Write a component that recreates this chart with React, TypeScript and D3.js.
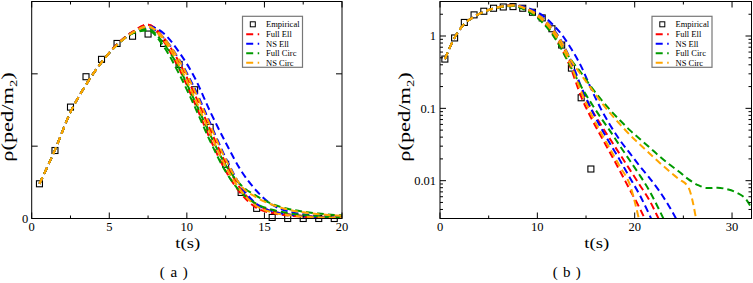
import React from 'react';
import * as d3 from 'd3';

// time grid of the simulated curves (s)
const tGrid = [0.5, 1.5, 2.5, 3.5, 4.5, 5.5, 6.5, 7.5, 8.5, 9.5, 10.5, 11.5, 12.5, 13.5, 14.5, 15.5, 16.5,
  17.5, 18.5, 19.5, 20.5, 21.5, 22.5, 23.5, 24.5, 25.5, 26.5, 27.5, 28.5, 29.5, 30.5, 31.5, 32];

// empirical density
const empT = [0.5, 1.5, 2.5, 3.5, 4.5, 5.5, 6.5, 7.5, 8.5, 9.5, 10.5, 11.5, 12.5, 13.5, 14.5, 15.5, 16.5, 17.5, 18.5, 19.5];
const empRho = [0.48, 0.94, 1.54, 1.96, 2.2, 2.42, 2.52, 2.55, 2.42, 2.13, 1.78, 1.26, 0.75, 0.36, 0.14, 0.0145, 0, 0, 0, 0];

// model runs, two per model
const fullEllA = [0.48, 0.95, 1.47, 1.85, 2.16, 2.41, 2.58, 2.68, 2.45, 2.07, 1.6, 1.1, 0.66, 0.34,
  0.145, 0.075, 0.042, 0.024, 0.0135, 0.0075, 0.0042, 0.0022, 0, 0, 0, 0, 0, 0, 0, 0, 0, 0, 0];
const fullEllB = [0.48, 0.95, 1.47, 1.85, 2.16, 2.41, 2.58, 2.68, 2.5, 2.16, 1.72, 1.23, 0.77, 0.4,
  0.19, 0.1, 0.06, 0.037, 0.023, 0.0142, 0.0088, 0.0054, 0.0029, 0.0015, 0, 0, 0, 0, 0, 0, 0, 0, 0];
const nsEllA = [0.48, 0.95, 1.47, 1.85, 2.16, 2.4, 2.57, 2.64, 2.5, 2.2, 1.8, 1.32, 0.84, 0.44,
  0.2, 0.1, 0.055, 0.032, 0.019, 0.011, 0.0064, 0.0034, 0.0017, 0, 0, 0, 0, 0, 0, 0, 0, 0, 0];
const nsEllB = [0.48, 0.95, 1.47, 1.85, 2.16, 2.4, 2.57, 2.66, 2.56, 2.3, 1.95, 1.48, 1.05, 0.66,
  0.38, 0.19, 0.1, 0.058, 0.036, 0.024, 0.016, 0.011, 0.0073, 0.0045, 0.0026, 0, 0, 0, 0, 0, 0, 0, 0];
const fullCircA = [0.48, 0.95, 1.47, 1.85, 2.16, 2.4, 2.56, 2.6, 2.38, 2.0, 1.55, 1.07, 0.65, 0.36,
  0.2, 0.12, 0.075, 0.048, 0.03, 0.019, 0.012, 0.0073, 0.004, 0.0021, 0, 0, 0, 0, 0, 0, 0, 0, 0];
const fullCircB = [0.48, 0.95, 1.47, 1.85, 2.16, 2.4, 2.56, 2.62, 2.42, 2.08, 1.63, 1.16, 0.74, 0.46,
  0.31, 0.2, 0.135, 0.094, 0.068, 0.05, 0.038, 0.029, 0.022, 0.017, 0.0135, 0.0105, 0.0087, 0.0079,
  0.008, 0.0076, 0.0068, 0.0054, 0.0042];
const nsCircA = [0.48, 0.95, 1.47, 1.85, 2.16, 2.4, 2.57, 2.66, 2.47, 2.12, 1.67, 1.18, 0.72, 0.38,
  0.17, 0.085, 0.047, 0.027, 0.0155, 0.0088, 0.0027, 0, 0, 0, 0, 0, 0, 0, 0, 0, 0, 0, 0];
const nsCircB = [0.48, 0.95, 1.47, 1.85, 2.16, 2.4, 2.57, 2.65, 2.5, 2.19, 1.77, 1.29, 0.82, 0.45,
  0.29, 0.19, 0.125, 0.085, 0.06, 0.043, 0.032, 0.024, 0.018, 0.0137, 0.0106, 0.0082, 0.0021, 0, 0, 0, 0, 0, 0];

const legendNames = ['Full Ell', 'NS Ell', 'Full Circ', 'NS Circ'];
const colors = ['#ff0000', '#0000ff', '#009a00', '#ffa500'];
const runs = [[fullEllA, fullEllB], [nsEllA, nsEllB], [fullCircA, fullCircB], [nsCircA, nsCircB]];

const FONT = '"Liberation Serif", "Times New Roman", serif';
const TOP = 1.5;
const BOTTOM = 218.5;

type Pt = { t: number; v: number };

function Legend({ x, y }: { x: number; y: number }) {
  const rows = [9, 18.5, 28, 37.5];
  return (
    <g transform={`translate(${x},${y})`} fontFamily={FONT} fontSize={8.5}>
      <rect x={0} y={0} width={60} height={51} fill="white" stroke="#777" strokeWidth={1.2} />
      <rect x={7.8} y={5.5} width={5} height={5} fill="none" stroke="black" strokeWidth={1} />
      <text x={23.5} y={8} dy="0.33em">Empirical</text>
      {legendNames.map((n, i) => (
        <g key={n}>
          <line x1={3.7} x2={16.7} y1={rows[i] + 9} y2={rows[i] + 9} stroke={colors[i]} strokeWidth={2}
            strokeDasharray="7,4.5" />
          <text x={23.5} y={rows[i] + 9} dy="0.33em">{n}</text>
        </g>
      ))}
    </g>
  );
}

function Panel({ id, x0, x1, xMax, xMajor, xMinor, log, title }: {
  id: string; x0: number; x1: number; xMax: number; xMajor: number[]; xMinor: number[]; log: boolean; title: string;
}) {
  const x = d3.scaleLinear().domain([0, xMax]).range([x0, x1]);
  const y: any = log
    ? d3.scaleLog().domain([0.003, 3]).range([BOTTOM, TOP])
    : d3.scaleLinear().domain([0, 3]).range([BOTTOM, TOP]);

  const line = d3.line<Pt>()
    .defined((d) => (log ? d.v > 0 : true))
    .x((d) => x(d.t))
    .y((d) => y(d.v))
    .curve(d3.curveMonotoneX);

  const yTicks: { v: number; major: boolean }[] = log
    ? y.ticks().map((v: number) => ({ v, major: Math.abs(Math.log10(v) - Math.round(Math.log10(v))) < 1e-6 }))
    : [0, 1, 2, 3].map((v) => ({ v, major: true }));

  const emp = empT.map((t, i) => ({ t, v: empRho[i] }))
    .filter((d) => (log ? d.v > 0 : true));

  const cx = (x0 + x1) / 2;

  return (
    <g>
      <defs>
        <clipPath id={id}>
          <rect x={x0} y={TOP} width={x1 - x0} height={BOTTOM - TOP} />
        </clipPath>
      </defs>
      {/* empirical squares */}
      {emp.map((d, i) => (
        <rect key={i} x={x(d.t) - 3} y={y(d.v) - 3} width={6} height={6} fill="none" stroke="black"
          strokeWidth={1.1} />
      ))}
      {/* model curves */}
      <g clipPath={`url(#${id})`}>
        {runs.map((pair, k) => pair.map((vals, j) => (
          <path key={`${k}-${j}`} d={line(tGrid.map((t, i) => ({ t, v: vals[i] }))) || ''} fill="none"
            stroke={colors[k]} strokeWidth={2} strokeDasharray="7,4" />
        )))}
      </g>
      {/* frame */}
      <rect x={x0} y={TOP} width={x1 - x0} height={BOTTOM - TOP} fill="none" stroke="black" strokeWidth={1} />
      {/* x ticks */}
      {xMajor.map((t) => (
        <g key={`xm${t}`}>
          <line x1={x(t)} x2={x(t)} y1={BOTTOM} y2={BOTTOM - 6} stroke="black" />
          <line x1={x(t)} x2={x(t)} y1={TOP} y2={TOP + 6} stroke="black" />
          <text x={x(t)} y={230.5} textAnchor="middle" fontFamily={FONT} fontSize={12.5}>{t}</text>
        </g>
      ))}
      {xMinor.map((t) => (
        <g key={`xn${t}`}>
          <line x1={x(t)} x2={x(t)} y1={BOTTOM} y2={BOTTOM - 3} stroke="black" />
          <line x1={x(t)} x2={x(t)} y1={TOP} y2={TOP + 3} stroke="black" />
        </g>
      ))}
      {/* y ticks */}
      {yTicks.map((d) => {
        const len = d.major ? 6 : 3;
        return (
          <g key={`y${d.v}`}>
            <line x1={x0} x2={x0 + len} y1={y(d.v)} y2={y(d.v)} stroke="black" />
            <line x1={x1} x2={x1 - len} y1={y(d.v)} y2={y(d.v)} stroke="black" />
          </g>
        );
      })}
      {log
        ? [1, 0.1, 0.01].map((v) => (
          <text key={v} x={x0 - 4} y={y(v)} dy="0.35em" textAnchor="end" fontFamily={FONT} fontSize={12.5}>{v}</text>
        ))
        : <text x={x0 - 3.5} y={y(0)} dy="0.35em" textAnchor="end" fontFamily={FONT} fontSize={12.5}>0</text>}
      {/* axis titles */}
      <text x={cx + 1} y={247.5} textAnchor="middle" fontFamily={FONT} fontSize={15.5} textLength={25}
        lengthAdjust="spacingAndGlyphs">t(s)</text>
      <g transform={`translate(${x0 - (log ? 30.2 : 18.5)},${117}) rotate(-90) scale(1.4,1)`}>
        <text textAnchor="middle" fontFamily={FONT} fontSize={16}>
          ρ(ped/m<tspan fontSize={10.5} dy={4}>2</tspan><tspan dy={-4}>)</tspan>
        </text>
      </g>
      <text x={cx + (log ? -29 : -13)} y={277} textAnchor="middle" fontFamily={FONT} fontSize={15}
        textLength={28} lengthAdjust="spacing">{title}</text>
      <Legend x={x1 - 99.5} y={16.3} />
    </g>
  );
}

export default function App() {
  return (
    <svg width={753} height={283} style={{ position: 'absolute', left: 0, top: 0, background: 'white' }}>
      <Panel id="clipA" x0={31.7} x1={342} xMax={20} xMajor={[0, 5, 10, 15, 20]} xMinor={[2.5, 7.5, 12.5, 17.5]}
        log={false} title="(a)" />
      <Panel id="clipB" x0={440} x1={751.5} xMax={32} xMajor={[0, 10, 20, 30]} xMinor={[5, 15, 25]}
        log={true} title="(b)" />
    </svg>
  );
}
